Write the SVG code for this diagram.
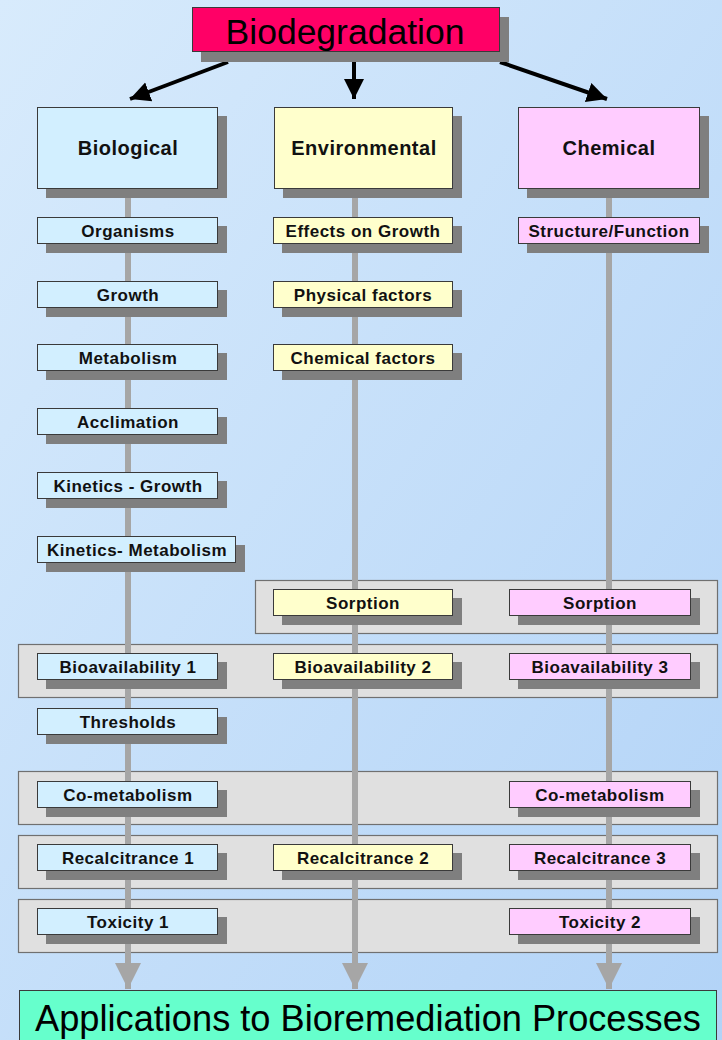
<svg xmlns="http://www.w3.org/2000/svg" width="722" height="1040" viewBox="0 0 722 1040">
<defs>
<linearGradient id="bg" x1="0" y1="0" x2="1" y2="1">
<stop offset="0" stop-color="#d8ebfc"/>
<stop offset="1" stop-color="#b2d3f7"/>
</linearGradient>
<marker id="blk" markerUnits="userSpaceOnUse" markerWidth="24" markerHeight="24" refX="20" refY="10" orient="auto" viewBox="0 0 24 20">
<path d="M0,0 L20,10 L0,20 Z" fill="#000"/>
</marker>
<marker id="gry" markerUnits="userSpaceOnUse" markerWidth="28" markerHeight="28" refX="26" refY="13" orient="auto" viewBox="0 0 28 26">
<path d="M0,0 L26,13 L0,26 Z" fill="#a6a6a6"/>
</marker>
</defs>
<style>
.sh{fill:#7f7f7f}
.bx{stroke:#3a3a3a;stroke-width:1}
.bio{fill:#d2efff}
.env{fill:#ffffcc}
.chem{fill:#ffccff}
.pnl{fill:#e0e0e0;stroke:#707070;stroke-width:1.2}
.t{font-family:"Liberation Sans",Arial,sans-serif;font-weight:bold;font-size:17px;letter-spacing:0.5px;text-anchor:middle;fill:#111}
.h{font-family:"Liberation Sans",Arial,sans-serif;font-weight:bold;font-size:20px;letter-spacing:0.5px;text-anchor:middle;fill:#111}
.big{font-family:"Liberation Sans",Arial,sans-serif;text-anchor:middle;fill:#000}
.vl{stroke:#a6a6a6;stroke-width:6;fill:none}
.al{stroke:#000;stroke-width:4;fill:none}
</style>
<rect x="0" y="0" width="722" height="1040" fill="url(#bg)"/>

<g id="panels">
<rect class="pnl" x="255.5" y="580.5" width="462" height="53"/>
<rect class="pnl" x="18.5" y="644.5" width="699" height="53"/>
<rect class="pnl" x="18.5" y="771.5" width="699" height="53"/>
<rect class="pnl" x="18.5" y="835.5" width="699" height="53"/>
<rect class="pnl" x="18.5" y="899.5" width="699" height="53"/>
</g>

<g id="connectors">
<line class="al" x1="228" y1="62" x2="130" y2="99" marker-end="url(#blk)"/>
<line class="al" x1="354" y1="62" x2="354" y2="99" marker-end="url(#blk)"/>
<line class="al" x1="500" y1="62" x2="607" y2="99" marker-end="url(#blk)"/>
<line class="vl" x1="128" y1="189" x2="128" y2="989" marker-end="url(#gry)"/>
<line class="vl" x1="355" y1="189" x2="355" y2="989" marker-end="url(#gry)"/>
<line class="vl" x1="609" y1="189" x2="609" y2="989" marker-end="url(#gry)"/>
</g>

<g id="title">
<rect class="sh" x="201" y="17" width="308" height="45"/>
<rect class="bx" x="192.5" y="7.5" width="307" height="44" fill="#ff0066"/>
<text class="big" x="345" y="44" font-size="35.5">Biodegradation</text>
</g>

<g id="biological">
<rect class="sh" x="46" y="116" width="181" height="82"/>
<rect class="bx bio" x="37.5" y="107.5" width="180" height="81"/>
<text class="h" x="128" y="155">Biological</text>
</g>
<g id="environmental">
<rect class="sh" x="283" y="116" width="179" height="82"/>
<rect class="bx env" x="274.5" y="107.5" width="178" height="81"/>
<text class="h" x="364" y="155">Environmental</text>
</g>
<g id="chemical">
<rect class="sh" x="527" y="116" width="182" height="82"/>
<rect class="bx chem" x="518.5" y="107.5" width="181" height="81"/>
<text class="h" x="609" y="155">Chemical</text>
</g>

<!-- Biological column -->
<g id="organisms"><rect class="sh" x="46" y="226" width="181" height="27"/><rect class="bx bio" x="37.5" y="217.5" width="180" height="26"/><text class="t" x="128" y="237">Organisms</text></g>
<g id="growth"><rect class="sh" x="46" y="290" width="181" height="27"/><rect class="bx bio" x="37.5" y="281.5" width="180" height="26"/><text class="t" x="128" y="301">Growth</text></g>
<g id="metabolism"><rect class="sh" x="46" y="353" width="181" height="27"/><rect class="bx bio" x="37.5" y="344.5" width="180" height="26"/><text class="t" x="128" y="364">Metabolism</text></g>
<g id="acclimation"><rect class="sh" x="46" y="417" width="181" height="27"/><rect class="bx bio" x="37.5" y="408.5" width="180" height="26"/><text class="t" x="128" y="428">Acclimation</text></g>
<g id="kinetics-growth"><rect class="sh" x="46" y="481" width="181" height="27"/><rect class="bx bio" x="37.5" y="472.5" width="180" height="26"/><text class="t" x="128" y="492">Kinetics - Growth</text></g>
<g id="kinetics-metabolism"><rect class="sh" x="46" y="545" width="199" height="27"/><rect class="bx bio" x="37.5" y="536.5" width="198" height="26"/><text class="t" x="137" y="556">Kinetics- Metabolism</text></g>
<g id="bioavailability1"><rect class="sh" x="46" y="662" width="181" height="27"/><rect class="bx bio" x="37.5" y="653.5" width="180" height="26"/><text class="t" x="128" y="673">Bioavailability 1</text></g>
<g id="thresholds"><rect class="sh" x="46" y="717" width="181" height="27"/><rect class="bx bio" x="37.5" y="708.5" width="180" height="26"/><text class="t" x="128" y="728">Thresholds</text></g>
<g id="cometabolism1"><rect class="sh" x="46" y="790" width="181" height="27"/><rect class="bx bio" x="37.5" y="781.5" width="180" height="26"/><text class="t" x="128" y="801">Co-metabolism</text></g>
<g id="recalcitrance1"><rect class="sh" x="46" y="853" width="181" height="27"/><rect class="bx bio" x="37.5" y="844.5" width="180" height="26"/><text class="t" x="128" y="864">Recalcitrance 1</text></g>
<g id="toxicity1"><rect class="sh" x="46" y="917" width="181" height="27"/><rect class="bx bio" x="37.5" y="908.5" width="180" height="26"/><text class="t" x="128" y="928">Toxicity 1</text></g>

<!-- Environmental column -->
<g id="effects-on-growth"><rect class="sh" x="282" y="226" width="180" height="27"/><rect class="bx env" x="273.5" y="217.5" width="179" height="26"/><text class="t" x="363" y="237">Effects on Growth</text></g>
<g id="physical-factors"><rect class="sh" x="282" y="290" width="180" height="27"/><rect class="bx env" x="273.5" y="281.5" width="179" height="26"/><text class="t" x="363" y="301">Physical factors</text></g>
<g id="chemical-factors"><rect class="sh" x="282" y="353" width="180" height="27"/><rect class="bx env" x="273.5" y="344.5" width="179" height="26"/><text class="t" x="363" y="364">Chemical factors</text></g>
<g id="sorption-env"><rect class="sh" x="282" y="598" width="180" height="27"/><rect class="bx env" x="273.5" y="589.5" width="179" height="26"/><text class="t" x="363" y="609">Sorption</text></g>
<g id="bioavailability2"><rect class="sh" x="282" y="662" width="180" height="27"/><rect class="bx env" x="273.5" y="653.5" width="179" height="26"/><text class="t" x="363" y="673">Bioavailability 2</text></g>
<g id="recalcitrance2"><rect class="sh" x="282" y="853" width="180" height="27"/><rect class="bx env" x="273.5" y="844.5" width="179" height="26"/><text class="t" x="363" y="864">Recalcitrance 2</text></g>

<!-- Chemical column -->
<g id="structure-function"><rect class="sh" x="527" y="226" width="182" height="27"/><rect class="bx chem" x="518.5" y="217.5" width="181" height="26"/><text class="t" x="609" y="237">Structure/Function</text></g>
<g id="sorption-chem"><rect class="sh" x="518" y="598" width="182" height="27"/><rect class="bx chem" x="509.5" y="589.5" width="181" height="26"/><text class="t" x="600" y="609">Sorption</text></g>
<g id="bioavailability3"><rect class="sh" x="518" y="662" width="182" height="27"/><rect class="bx chem" x="509.5" y="653.5" width="181" height="26"/><text class="t" x="600" y="673">Bioavailability 3</text></g>
<g id="cometabolism2"><rect class="sh" x="518" y="790" width="182" height="27"/><rect class="bx chem" x="509.5" y="781.5" width="181" height="26"/><text class="t" x="600" y="801">Co-metabolism</text></g>
<g id="recalcitrance3"><rect class="sh" x="518" y="853" width="182" height="27"/><rect class="bx chem" x="509.5" y="844.5" width="181" height="26"/><text class="t" x="600" y="864">Recalcitrance 3</text></g>
<g id="toxicity2"><rect class="sh" x="518" y="917" width="182" height="27"/><rect class="bx chem" x="509.5" y="908.5" width="181" height="26"/><text class="t" x="600" y="928">Toxicity 2</text></g>

<g id="applications">
<rect class="bx" x="19.5" y="990.5" width="697" height="60" fill="#66ffcc"/>
<text class="big" x="368" y="1031" font-size="36.2">Applications to Bioremediation Processes</text>
</g>
</svg>
